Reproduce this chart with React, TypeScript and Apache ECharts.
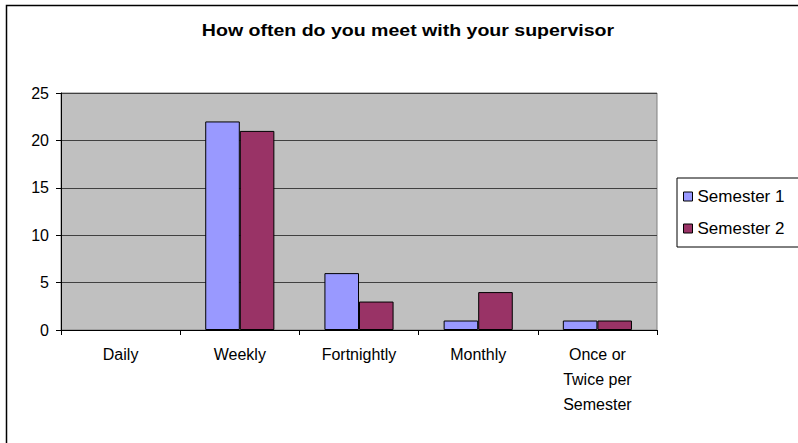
import React, { useEffect, useRef } from "react";
import * as echarts from "echarts";

const categories = ["Daily", "Weekly", "Fortnightly", "Monthly", "Once or\nTwice per\nSemester"];
const semester1 = [0, 22, 6, 1, 1];
const semester2 = [0, 21, 3, 4, 1];
const seriesNames = ["Semester 1", "Semester 2"];
const titleText = "How often do you meet with your supervisor";

const FONT = "'Liberation Sans', Arial, sans-serif";

const toBarData = (arr: number[]) =>
  arr.map((v) => (v === 0 ? { value: v, itemStyle: { borderWidth: 0 } } : v));

export default function App() {
  const ref = useRef<HTMLDivElement>(null);
  useEffect(() => {
    if (!ref.current) return;
    const chart = echarts.init(ref.current, undefined, { renderer: "svg" });
    chart.setOption({
      animation: false,
      backgroundColor: "#ffffff",
      textStyle: { fontFamily: FONT },
      graphic: [
        {
          type: "rect",
          shape: { x: 6.5, y: 5.5, width: 900, height: 600 },
          style: { fill: "none", stroke: "#000", lineWidth: 1.5 },
          silent: true,
          z: -10,
        },
        {
          type: "text",
          x: 408,
          y: 30,
          scaleX: 1.15,
          style: {
            text: titleText,
            font: `bold 17px ${FONT}`,
            fill: "#000",
            textAlign: "center",
            textVerticalAlign: "middle",
          },
        },
      ],
      legend: {
        orient: "vertical",
        left: 677,
        top: 178,
        padding: [10, 30, 10, 6],
        itemGap: 15,
        itemWidth: 9,
        itemHeight: 9,
        icon: "rect",
        backgroundColor: "#fff",
        borderColor: "#000",
        borderWidth: 1,
        borderRadius: 0,
        textStyle: { fontSize: 17, lineHeight: 16, color: "#000", fontFamily: FONT },
        itemStyle: { borderColor: "#000", borderWidth: 1 },
        data: seriesNames,
      },
      grid: {
        left: 61,
        top: 93,
        right: 141,
        bottom: 113,
        show: true,
        backgroundColor: "#C0C0C0",
        borderColor: "#808080",
        borderWidth: 1,
      },
      xAxis: {
        type: "category",
        data: categories,
        axisLine: { show: true, lineStyle: { color: "#000", width: 1 } },
        axisTick: { show: true, length: 5, lineStyle: { color: "#000" } },
        axisLabel: {
          interval: 0,
          color: "#000",
          fontSize: 16,
          lineHeight: 25,
          margin: 12,
          fontFamily: FONT,
        },
        splitLine: { show: false },
      },
      yAxis: {
        type: "value",
        min: 0,
        max: 25,
        interval: 5,
        axisLine: { show: true, lineStyle: { color: "#000", width: 1 } },
        axisTick: { show: true, length: 5, lineStyle: { color: "#000" } },
        axisLabel: { color: "#000", fontSize: 16, margin: 12, fontFamily: FONT },
        splitLine: { show: true, lineStyle: { color: "#404040", width: 1 } },
      },
      series: [
        {
          name: seriesNames[0],
          type: "bar",
          data: toBarData(semester1),
          barGap: "0%",
          barCategoryGap: "42%",
          itemStyle: { color: "#9999FF", borderColor: "#000", borderWidth: 1 },
        },
        {
          name: seriesNames[1],
          type: "bar",
          data: toBarData(semester2),
          barGap: "0%",
          barCategoryGap: "42%",
          itemStyle: { color: "#993366", borderColor: "#000", borderWidth: 1 },
        },
      ],
    });
    return () => chart.dispose();
  }, []);
  return (
    <div
      ref={ref}
      style={{ position: "absolute", left: 0, top: 0, width: 798, height: 443 }}
    />
  );
}
